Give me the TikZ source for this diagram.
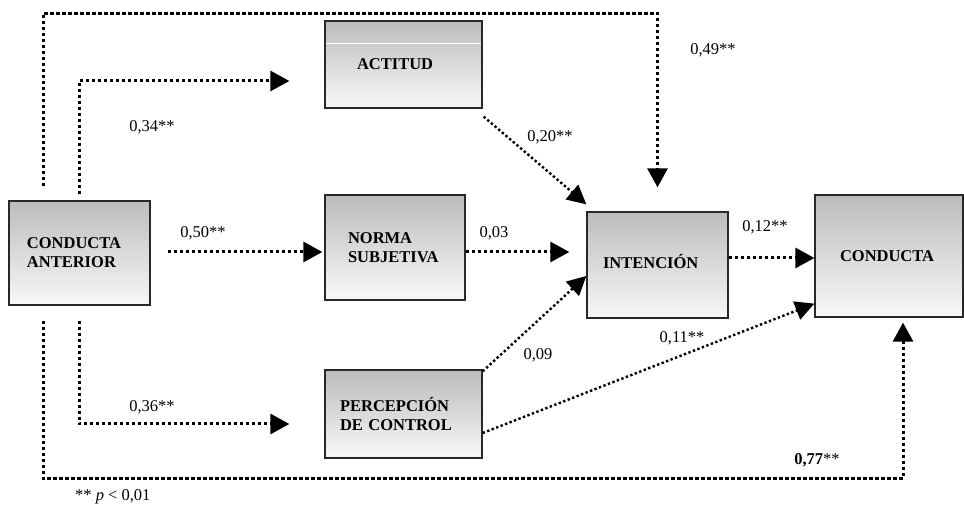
\documentclass[tikz,border=0pt]{standalone}
\usepackage{fontspec}
\setmainfont{Liberation Serif}
\usetikzlibrary{arrows.meta,calc}
\definecolor{boxtop}{RGB}{188,188,188}
\definecolor{boxbot}{RGB}{248,248,248}
\definecolor{boxline}{RGB}{40,40,40}
\tikzset{
  box/.style={draw=boxline, line width=1.3pt, top color=boxtop, bottom color=boxbot,
    font=\fontsize{16.5}{19}\selectfont\bfseries, align=left, anchor=center},
  link/.style={line width=3pt, dash pattern=on 3.2pt off 2.8pt,
    -{Triangle[length=19pt,width=20pt]}},
  thinlink/.style={line width=2.4pt, dash pattern=on 2.4pt off 2.4pt,
    -{Triangle[length=19pt,width=19pt]}},
  coef/.style={font=\fontsize{16.5}{19}\selectfont, inner sep=0pt}
}
\begin{document}
\begin{tikzpicture}[x=1pt,y=1pt]
\useasboundingbox (0,0) rectangle (964,508);
% boxes
\node[box, minimum width=141pt, minimum height=104pt, inner xsep=17pt, text width=105pt] (ant) at (79.5,255) {CONDUCTA\\ANTERIOR};
\node[box, minimum width=157pt, minimum height=87pt, inner xsep=31pt, text width=93pt] (act) at (403.5,443.5) {ACTITUD};
\node[box, minimum width=140pt, minimum height=105pt, inner xsep=22pt, text width=94pt] (norm) at (395,260.5) {NORMA\\SUBJETIVA};
\node[box, minimum width=141pt, minimum height=106pt, inner xsep=15pt, text width=109pt] (intn) at (657.5,243) {\raisebox{7pt}{INTENCIÓN}};
\node[box, minimum width=148pt, minimum height=122pt, inner xsep=24pt, text width=98pt] (cond) at (889,252) {\raisebox{-5pt}{CONDUCTA}};
\node[box, minimum width=157pt, minimum height=88pt, inner xsep=14pt, text width=127pt] (perc) at (403.5,94) {PERCEPCIÓN\\DE CONTROL};
\draw[white, line width=1pt] ($(act.north west)+(1.5,-23)$) -- ($(act.north east)+(-1.5,-23)$);
% connectors
\draw[link] ($(ant.north west)+(35,14)$) -- ++(0,173) -| ($(intn.north)+(0,24)$);
\draw[link] ($(ant.north)+(0,6)$) |- ($(act.west)+(-35,-16.5)$);
\draw[link] ($(ant.east)+(17,1)$) -- ($(norm.west)+(-2,-4.5)$);
\draw[link] ($(norm.east)+(0,-4.5)$) -- ($(intn.west)+(-17,13)$);
\draw[thinlink] ($(act.south east)+(1,-8)$) -- ($(intn.north west)+(0,7)$);
\draw[link] ($(intn.east)+(0,7)$) -- ($(cond.west)+(0,-2)$);
\draw[thinlink] ($(perc.north east)+(0,-2)$) -- ($(intn.west)+(0,-11)$);
\draw[thinlink] ($(perc.east)+(0,-19)$) -- ($(cond.south west)+(0,14)$);
\draw[link] ($(ant.south west)+(35,-15)$) -- ++(0,-158) -| ($(cond.south)+(14,-5)$);
\draw[link] ($(ant.south)+(0,-15)$) |- ($(perc.west)+(-35,-10)$);
% coefficients
\node[coef] (c49) at (713,458) {0,49**};
\node[coef] (c34) at (152,381) {0,34**};
\node[coef] (c50) at (203,275) {0,50**};
\node[coef] (c03) at (494,275) {0,03};
\node[coef] (c20) at (550,371) {0,20**};
\node[coef] (c12) at (765,281) {0,12**};
\node[coef] (c09) at (538,153) {0,09};
\node[coef] (c11) at (682,170) {0,11**};
\node[coef] (c77) at (817,48) {\textbf{0,77}**};
\node[coef] (c36) at (152,101) {0,36**};
\node[coef, anchor=west] (note) at (75,11) {** \textit{p} < 0,01};
\end{tikzpicture}
\end{document}
